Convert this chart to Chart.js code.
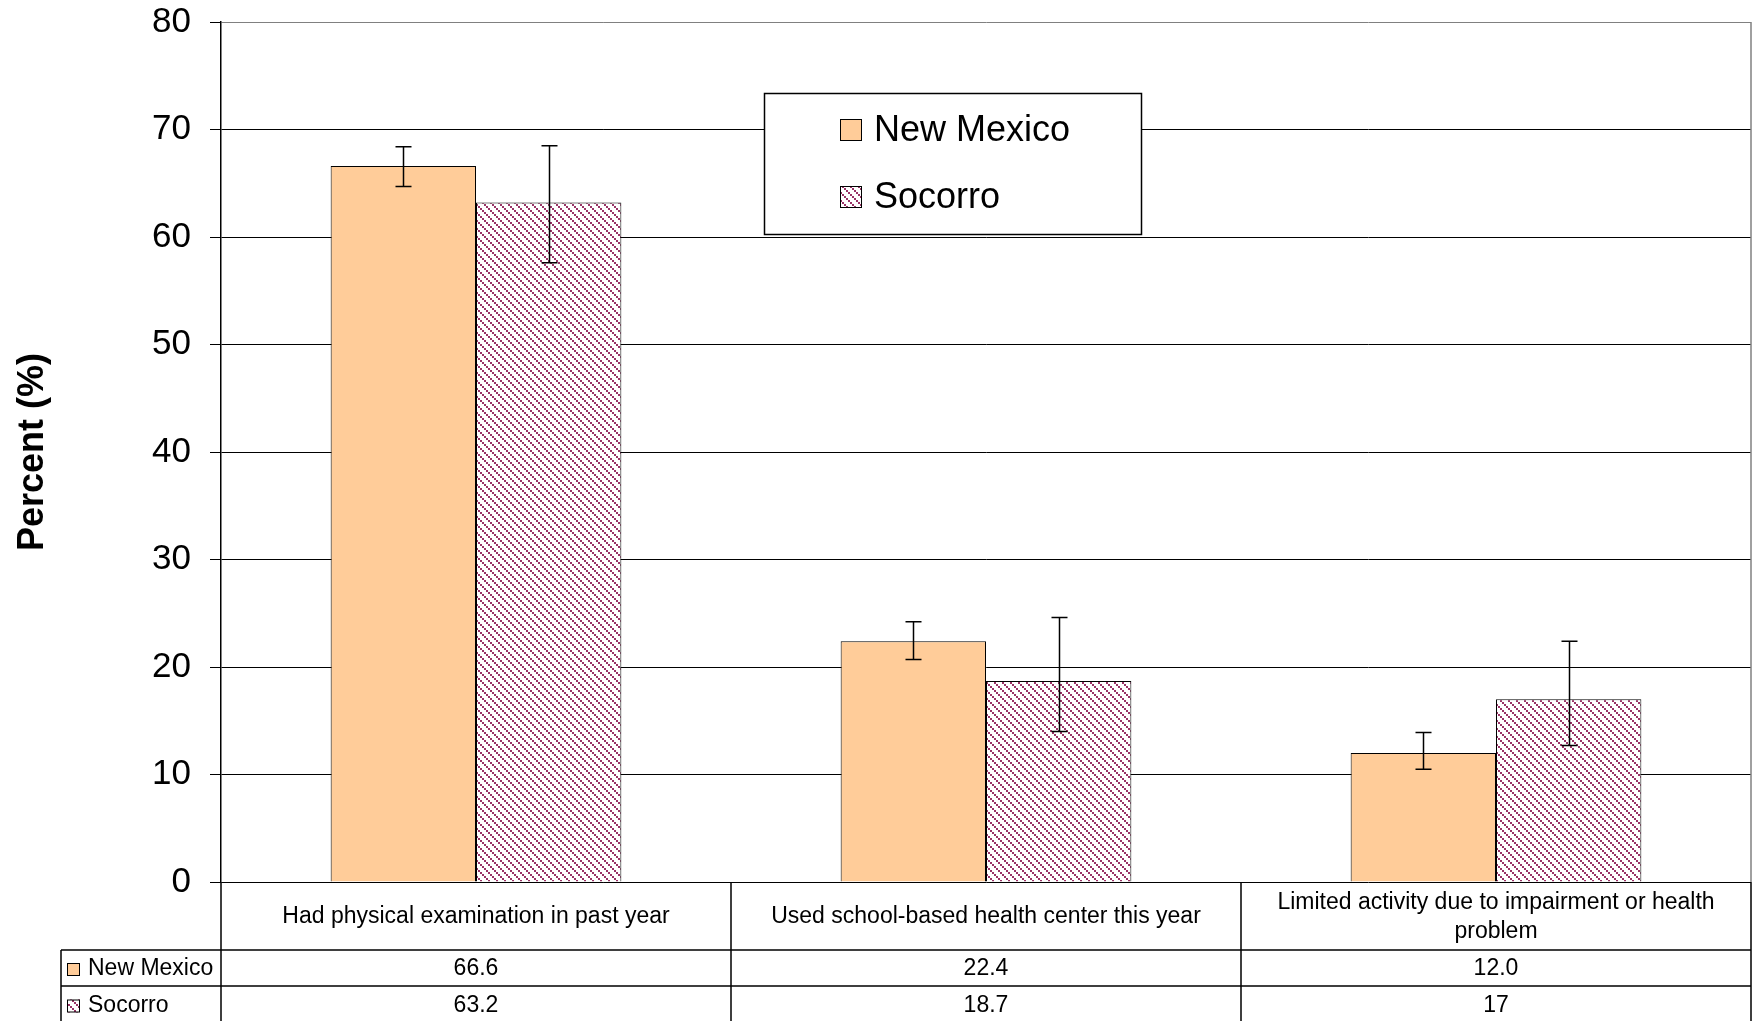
<!DOCTYPE html>
<html><head><meta charset="utf-8">
<script src="https://cdn.jsdelivr.net/npm/chart.js@4/dist/chart.umd.min.js"></script>
<style>html,body{margin:0;padding:0;background:#fff;}canvas{display:block;}</style>
</head><body>
<canvas id="c" width="1756" height="1021"></canvas>
<script>
// ---- data ----
const categories = ["Had physical examination in past year", "Used school-based health center this year", "Limited activity due to impairment or health problem"];
const seriesNames = ["New Mexico", "Socorro"];
const nmValues = [66.6, 22.4, 12.0];
const socValues = [63.2, 18.7, 17];
const nmLow = [64.7, 20.7, 10.5];
const nmHigh = [68.4, 24.2, 13.9];
const socLow = [57.6, 14.0, 12.7];
const socHigh = [68.5, 24.6, 22.4];
const nmTableLabels = ["66.6", "22.4", "12.0"];
const socTableLabels = ["63.2", "18.7", "17"];
const yTickLabels = ["0", "10", "20", "30", "40", "50", "60", "70", "80"];
const yAxisTitle = "Percent (%)";

// ---- styles ----
const FONT = '"Liberation Sans", Arial, Helvetica, sans-serif';
const NM_COLOR = '#FFCC99';
const SOC_LINE = '#993366';

function makePattern() {
  const p = document.createElement('canvas');
  p.width = 8; p.height = 8;
  const g = p.getContext('2d');
  g.fillStyle = '#fff'; g.fillRect(0, 0, 8, 8);
  g.fillStyle = SOC_LINE;
  for (let k = 0; k < 8; k += 2) g.fillRect(k, k, 2, 2);
  return document.createElement('canvas').getContext('2d').createPattern(p, 'repeat');
}
const socPattern = makePattern();
const lows = [nmLow, socLow], highs = [nmHigh, socHigh];
const fills = [NM_COLOR, socPattern];
const tableRows = [nmTableLabels, socTableLabels];

const errorBars = {
  id: 'errorBars',
  afterDatasetsDraw(chart) {
    const ctx = chart.ctx, y = chart.scales.y;
    chart.data.datasets.forEach((ds, di) => {
      const meta = chart.getDatasetMeta(di);
      meta.data.forEach((bar, i) => {
        const x = Math.round(bar.x) + 0.5;
        const yt = y.getPixelForValue(highs[di][i]);
        const yb = y.getPixelForValue(lows[di][i]);
        ctx.save();
        ctx.strokeStyle = '#000'; ctx.lineWidth = 1.5;
        ctx.beginPath();
        ctx.moveTo(x, yt); ctx.lineTo(x, yb);
        ctx.moveTo(x - 8, yt); ctx.lineTo(x + 8, yt);
        ctx.moveTo(x - 8, yb); ctx.lineTo(x + 8, yb);
        ctx.stroke();
        ctx.restore();
      });
    });
  }
};

function wrapText(ctx, text, maxW) {
  const words = text.split(' ');
  const lines = []; let cur = '';
  words.forEach(w => {
    const t = cur ? cur + ' ' + w : w;
    if (ctx.measureText(t).width > maxW && cur) { lines.push(cur); cur = w; } else cur = t;
  });
  if (cur) lines.push(cur);
  return lines;
}

const tableAndLegend = {
  id: 'tableAndLegend',
  afterDraw(chart) {
    const ctx = chart.ctx, area = chart.chartArea, xs = chart.scales.x;
    const n = chart.data.labels.length;
    const cw = (area.right - area.left) / n;
    const top = area.bottom, r1 = 950, r2 = 986, bot = 1021;
    const legL = 61;
    ctx.save();
    // plot area right border (gray)
    ctx.strokeStyle = '#808080'; ctx.lineWidth = 1.5;
    ctx.beginPath(); ctx.moveTo(area.right, area.top); ctx.lineTo(area.right, area.bottom); ctx.stroke();
    // table lines
    ctx.strokeStyle = '#000'; ctx.lineWidth = 1.5;
    ctx.beginPath();
    ctx.moveTo(legL, r1); ctx.lineTo(area.right, r1);
    ctx.moveTo(legL, r2); ctx.lineTo(area.right, r2);
    ctx.moveTo(legL, r1); ctx.lineTo(legL, bot);
    for (let i = 0; i <= n; i++) {
      const x = area.left + i * cw;
      ctx.moveTo(x, top); ctx.lineTo(x, bot);
    }
    ctx.stroke();
    // category labels
    ctx.fillStyle = '#000';
    ctx.font = '23px ' + FONT;
    ctx.textAlign = 'center'; ctx.textBaseline = 'middle';
    chart.data.labels.forEach((lab, i) => {
      const cx = xs.getPixelForValue(i);
      const lines = wrapText(ctx, lab, cw - 20);
      const lh = 29;
      const startY = (top + r1) / 2 - (lines.length - 1) * lh / 2 + 1;
      lines.forEach((ln, k) => ctx.fillText(ln, cx, startY + k * lh));
      tableRows.forEach((row, ri) => {
        const cy = ri === 0 ? (r1 + r2) / 2 + 1 : (r2 + bot) / 2 + 2;
        ctx.fillText(row[i], cx, cy);
      });
    });
    // legend column of table
    ctx.textAlign = 'left';
    seriesNames.forEach((nm, ri) => {
      const cy = ri === 0 ? (r1 + r2) / 2 + 1 : (r2 + bot) / 2 + 2;
      ctx.fillStyle = fills[ri];
      ctx.fillRect(67, cy - 6, 13, 13);
      ctx.strokeStyle = '#000'; ctx.lineWidth = 1;
      ctx.strokeRect(67.5, cy - 5.5, 12, 12);
      ctx.fillStyle = '#000';
      ctx.fillText(nm, 88, cy);
    });
    // chart legend box
    const bx = 764.5, by = 93.5, bw = 377, bh = 141;
    ctx.fillStyle = '#fff';
    ctx.fillRect(bx, by, bw, bh);
    ctx.strokeStyle = '#000'; ctx.lineWidth = 1.5;
    ctx.strokeRect(bx, by, bw, bh);
    ctx.font = '36px ' + FONT;
    ctx.textBaseline = 'middle';
    const ly = [130, 197];
    seriesNames.forEach((nm, ri) => {
      ctx.fillStyle = fills[ri];
      ctx.fillRect(840, ly[ri] - 10, 21, 21);
      ctx.strokeStyle = '#000'; ctx.lineWidth = 1;
      ctx.strokeRect(840.5, ly[ri] - 10.5, 21, 21);
      ctx.fillStyle = '#000';
      ctx.fillText(nm, 874, ly[ri] + 1);
    });
    ctx.restore();
  }
};

new Chart(document.getElementById('c'), {
  type: 'bar',
  data: {
    labels: categories,
    datasets: [
      { label: seriesNames[0], data: nmValues, backgroundColor: NM_COLOR, borderColor: '#000', borderWidth: 1, categoryPercentage: 0.57, barPercentage: 1 },
      { label: seriesNames[1], data: socValues, backgroundColor: socPattern, borderColor: '#000', borderWidth: 1, categoryPercentage: 0.57, barPercentage: 1 }
    ]
  },
  options: {
    responsive: false,
    animation: false,
    devicePixelRatio: 1,
    layout: { padding: { left: 0, right: 5, top: 22, bottom: 139 } },
    plugins: { legend: { display: false }, tooltip: { enabled: false }, title: { display: false } },
    scales: {
      x: { display: false },
      y: {
        min: 0, max: 80,
        ticks: { stepSize: 10, color: '#000', padding: 19, font: { family: FONT, size: 35 },
          callback: (v) => yTickLabels[Math.round(v / 10)] },
        grid: { color: (c) => (c.tick && c.tick.value === 80) ? '#808080' : '#000', lineWidth: 1, tickLength: 11, tickColor: '#000', drawTicks: true },
        border: { display: true, color: '#000', width: 1.5 },
        title: { display: true, text: yAxisTitle, color: '#000', font: { family: FONT, size: 36, weight: 'bold' }, padding: { top: 11, bottom: 0 } },
        afterFit(s) { s.width = 221; s.paddingTop = 0; s.paddingBottom = 0; }
      }
    }
  },
  plugins: [errorBars, tableAndLegend]
});
</script>
</body></html>
